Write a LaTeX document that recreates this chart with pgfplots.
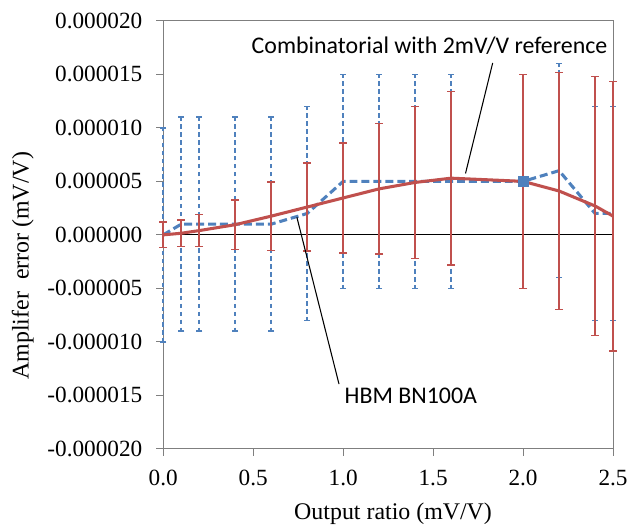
\documentclass[border=0pt]{standalone}
\usepackage{pgfplots}
\pgfplotsset{compat=1.18}
\usepackage{pgfplotstable}
\usepackage{fontspec}
\setmainfont{Liberation Serif}
\newfontfamily\calib{Carlito}
\definecolor{xred}{HTML}{C0504D}
\definecolor{xblue}{HTML}{4F81BD}
\definecolor{axgray}{HTML}{7F7F7F}

% x, value, error (combinatorial with 2mV/V reference)
\pgfplotstableread{
x y e
0.0 0.000000 0.00001
0.1 0.000001 0.00001
0.2 0.000001 0.00001
0.4 0.000001 0.00001
0.6 0.000001 0.00001
0.8 0.000002 0.00001
1.0 0.000005 0.00001
1.2 0.000005 0.00001
1.4 0.000005 0.00001
1.6 0.000005 0.00001
2.0 0.000005 0.00001
2.2 0.000006 0.00001
2.4 0.000002 0.00001
2.5 0.000002 0.00001
}\comb

% HBM BN100A
\pgfplotstableread{
x y e
0.0 0.00000000 0.00000120
0.1 0.00000015 0.00000125
0.2 0.00000040 0.00000150
0.4 0.00000095 0.00000230
0.6 0.00000175 0.00000320
0.8 0.00000260 0.00000410
1.0 0.00000345 0.00000515
1.2 0.00000430 0.00000610
1.4 0.00000490 0.00000710
1.6 0.00000530 0.00000810
2.0 0.00000500 0.00001000
2.2 0.00000410 0.00001110
2.4 0.00000270 0.00001210
2.5 0.00000175 0.00001260
}\hbm

\begin{document}
\begin{tikzpicture}
\begin{axis}[
  set layers,
  scale only axis,
  width=339pt, height=322.5pt,
  xmin=0, xmax=2.5, ymin=-0.00002, ymax=0.00002,
  xtick={0,0.5,1,1.5,2,2.5},
  xticklabels={0.0,0.5,1.0,1.5,2.0,2.5},
  ytick={-0.00002,-0.000015,-0.00001,-0.000005,0,0.000005,0.00001,0.000015,0.00002},
  yticklabels={-0.000020,-0.000015,-0.000010,-0.000005,0.000000,0.000005,0.000010,0.000015,0.000020},
  scaled y ticks=false, scaled x ticks=false,
  xtick pos=bottom, ytick pos=left,
  tick align=outside,
  major tick length=5.25pt,
  axis line style={draw=axgray, line width=0.8pt},
  tick style={draw=axgray, line width=0.8pt},
  ticklabel style={font=\fontsize{17.5}{20}\selectfont},
  yticklabel style={xshift=-7pt},
  xticklabel style={yshift=-7.5pt},
  xlabel={Output ratio (mV/V)},
  ylabel={Amplifer\ \ error (mV/V)},
  label style={font=\fontsize{18}{21}\selectfont},
  xlabel style={at={(axis description cs:0.511,-0.165)}, anchor=base},
  ylabel style={at={(axis description cs:-0.312,0.428)}, anchor=center},
  clip=false,
]
% zero line
\addplot[black, line width=0.8pt, forget plot] coordinates {(0,0) (2.5,0)};

% combinatorial series
\addplot[xblue, line width=2.3pt, dash pattern=on 6pt off 3pt,
  error bars/.cd, y dir=both, y explicit,
  error bar style={draw=xblue, color=xblue, line width=1.1pt, dash pattern=on 3.5pt off 2.5pt},
  error mark options={draw=xblue, line width=1.1pt, solid, mark size=2.3pt, rotate=90}]
  table[x=x, y=y, y error=e] {\comb};

% HBM series
\addplot[xred, line width=2.3pt,
  error bars/.cd, y dir=both, y explicit,
  error bar style={draw=xred, color=xred, line width=1.1pt, solid},
  error mark options={draw=xred, line width=1.1pt, solid, mark size=3pt, rotate=90}]
  table[x=x, y=y, y error=e] {\hbm};

% marker on combinatorial at 2.0
\addplot[only marks, mark=square*, mark size=4pt, color=xblue]
  coordinates {(2.0,0.000005)};

% callouts
\draw[black, line width=0.8pt] (axis cs:1.831,0.00001607) -- (axis cs:1.680,0.00000574);
\draw[black, line width=0.8pt] (axis cs:0.743,0.00000164) -- (axis cs:0.977,-0.00001395);
\node[anchor=base, inner sep=0pt, font=\calib\fontsize{18}{21}\selectfont]
  at (axis cs:1.480,0.00001693) {Combinatorial with 2mV/V reference};
\node[anchor=base west, inner sep=0pt, font=\calib\fontsize{18}{21}\selectfont]
  at (axis cs:1.007,-0.00001572) {HBM BN100A};
\end{axis}
\path (current axis.south west) ++(-123pt,-56.25pt) coordinate (bl);
\path (current axis.north east) ++(12pt,15.75pt) coordinate (tr);
\useasboundingbox (bl) rectangle (tr);
\end{tikzpicture}
\end{document}
